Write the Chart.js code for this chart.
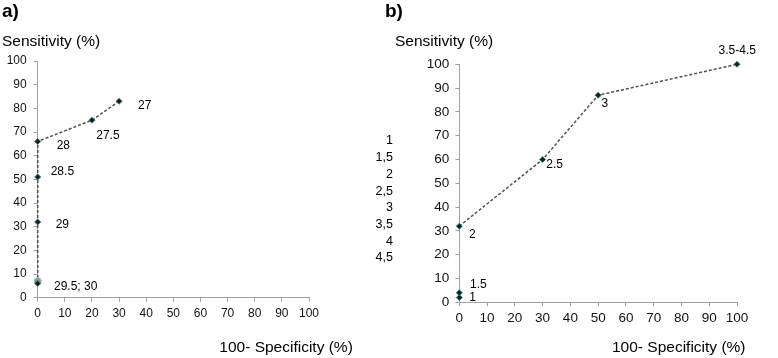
<!DOCTYPE html>
<html><head><meta charset="utf-8">
<script src="https://cdn.jsdelivr.net/npm/chart.js@4.4.1/dist/chart.umd.min.js"></script>
<style>
body{margin:0;background:#fff;width:778px;height:358px;position:relative;overflow:hidden}
canvas{position:absolute;top:0}
#ca{left:0}
#cb{left:360px}
</style>
</head><body>
<canvas id="ca" width="360" height="358"></canvas>
<canvas id="cb" width="418" height="358"></canvas>
<script>
// ---- data ----
const tickValues = [0,10,20,30,40,50,60,70,80,90,100];
const aX = [30, 20, 0, 0, 0, 0, 0];
const aY = [83, 75, 66, 51, 32, 7, 6];
const aLabels = ['27', '27.5', '28', '28.5', '29', '', '29.5; 30'];
const bX = [0, 0, 0, 30, 50, 100];
const bY = [2, 4, 32, 60, 87, 100];
const bLabels = ['1', '1.5', '2', '2.5', '3', '3.5-4.5'];
const bCutoffs = ['1', '1,5', '2', '2,5', '3', '3,5', '4', '4,5'];
const yTitle = 'Sensitivity (%)';
const xTitle = '100- Specificity (%)';

// ---- styling ----
const FONT = '"Liberation Sans", Arial, sans-serif';
Chart.defaults.font.family = FONT;
Chart.defaults.color = '#111';
const axisGrey = '#a0a0a0';
const aOffsets = [[19,4.3],[4.3,16],[19,4.7],[13,-5],[18,2.3],null,[16.3,3.3]];
const bOffsets = [[10,0],[10.7,-7.7],[9.7,8.3],[3.7,5],[3.3,8.3],[-18.4,-13.3]];

const textPlugin = {
  id: 'texts',
  afterDraw(chart, args, opts) {
    const ctx = chart.ctx;
    ctx.save();
    ctx.fillStyle = '#000';
    ctx.textBaseline = 'middle';
    // point labels
    const meta = chart.getDatasetMeta(0);
    ctx.font = '12px ' + FONT;
    ctx.textAlign = 'left';
    opts.labels.forEach((t, i) => {
      const off = opts.offsets[i];
      if (!t || !off) return;
      const el = meta.data[i];
      ctx.fillText(t, el.x + off[0], el.y + off[1]);
    });
    // free texts
    opts.texts.forEach(tx => {
      ctx.font = tx.font;
      ctx.textAlign = tx.align || 'left';
      ctx.fillText(tx.text, tx.x, tx.y);
    });
    if (opts.column) {
      ctx.font = opts.column.font;
      ctx.textAlign = 'right';
      opts.column.items.forEach((t, i) => {
        ctx.fillText(t, opts.column.x, opts.column.y0 + i * opts.column.step);
      });
    }
    ctx.restore();
  }
};

function scaleCfg(axis, fontSize, pad, fitSize) {
  return {
    type: 'linear', min: 0, max: 100,
    afterBuildTicks: s => { s.ticks = tickValues.map(v => ({value: v})); },
    afterFit: s => { if (axis === 'x') s.height = fitSize; else s.width = fitSize; },
    ticks: { font: {size: fontSize}, padding: pad, color: '#111', autoSkip: false, maxRotation: 0 },
    grid: { display: true, drawOnChartArea: false, drawTicks: true, tickLength: 4, color: axisGrey },
    border: { display: true, color: axisGrey, width: 1 }
  };
}

function makeChart(id, xs, ys, opts) {
  const pts = xs.map((x, i) => ({x, y: ys[i]}));
  return new Chart(document.getElementById(id), {
    type: 'scatter',
    data: { datasets: [{
      data: pts,
      showLine: true,
      clip: false,
      borderColor: '#505050',
      borderWidth: 1.5,
      borderDash: [3, 2],
      segment: opts.segment || {},
      pointStyle: opts.pointStyle,
      pointRadius: opts.pointRadius,
      pointBackgroundColor: opts.pointBg,
      pointBorderColor: opts.pointBorder,
      pointBorderWidth: 1
    }]},
    options: {
      responsive: false, animation: false, devicePixelRatio: 1,
      layout: { padding: opts.padding },
      plugins: { legend: {display: false}, tooltip: {enabled: false}, texts: opts.texts },
      scales: {
        x: scaleCfg('x', opts.font, opts.xPad, 24),
        y: scaleCfg('y', opts.font, opts.yPad, opts.yWidth)
      }
    },
    plugins: [textPlugin]
  });
}

// Chart a)
makeChart('ca', aX, aY, {
  padding: {left: 0, right: 51, top: 61, bottom: 36.3},
  yWidth: 37.7, font: 12, xPad: 5, yPad: 7,
  pointStyle: ['rectRot','rectRot','rectRot','rectRot','rectRot','circle','rectRot'],
  pointRadius: [3,3,3,3,3,3.5,3],
  pointBg: ['#082424','#082424','#082424','#082424','#082424','#7f9e9e','#082424'],
  pointBorder: ['#3d7a7a','#3d7a7a','#3d7a7a','#3d7a7a','#3d7a7a','#9fbcbc','#3d7a7a'],
  texts: {
    labels: aLabels, offsets: aOffsets,
    texts: [
      {text: 'a)', x: 2, y: 12, font: 'bold 19px ' + FONT},
      {text: yTitle, x: 2, y: 42, font: '15.5px ' + FONT},
      {text: xTitle, x: 219.3, y: 348, font: '15.5px ' + FONT}
    ]
  }
});

// Chart b)
makeChart('cb', bX, bY, {
  padding: {left: 59.3, right: 41, top: 64.3, bottom: 31.7},
  yWidth: 40, font: 13.5, xPad: 4, yPad: 6,
  pointStyle: 'rectRot', pointRadius: 3,
  pointBg: '#082424', pointBorder: '#3d7a7a',
  segment: { borderColor: c => (c.p0.parsed.x === 0 && c.p1.parsed.x === 0) ? 'rgba(0,0,0,0)' : '#505050' },
  texts: {
    labels: bLabels, offsets: bOffsets,
    texts: [
      {text: 'b)', x: 25, y: 12, font: 'bold 19px ' + FONT},
      {text: yTitle, x: 35, y: 42, font: '15.5px ' + FONT},
      {text: xTitle, x: 252, y: 348, font: '15.5px ' + FONT}
    ],
    column: { items: bCutoffs, x: 33, y0: 141, step: 16.7, font: '12.5px ' + FONT }
  }
});
</script>
</body></html>
